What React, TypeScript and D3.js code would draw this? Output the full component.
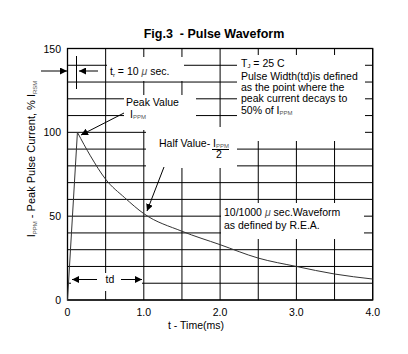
import React, { useEffect, useRef } from "react";
import * as d3 from "d3";

// waveform (time in ms, current in % of Ippm)
const riseTime = [0, 0.13];
const riseValue = [0, 100];
const decayTime = [0.13, 0.3, 0.5, 0.75, 1.0, 1.5, 2.0, 2.5, 3.0, 3.5, 4.0];
const decayValue = [100, 86, 72, 61, 51.5, 41, 33, 25, 20, 15.5, 12.5];

const xTicks = [0, 1, 2, 3, 4];
const xTickLabels = ["0", "1.0", "2.0", "3.0", "4.0"];
const yTicks = [0, 50, 100, 150];
const xGrid = d3.range(0, 4.01, 0.5);
const yGrid = d3.range(0, 150.1, 10);

const W = 408;
const H = 354;
const FONT = "'Liberation Sans', Arial, sans-serif";

export default function App() {
  const ref = useRef<SVGSVGElement>(null);

  useEffect(() => {
    const svg = d3.select(ref.current);
    svg.selectAll("*").remove();

    const x = d3.scaleLinear().domain([0, 4]).range([67.5, 372.7]);
    const y = d3.scaleLinear().domain([0, 150]).range([300, 48.5]);

    const defs = svg.append("defs");
    defs.append("marker").attr("id", "ah").attr("viewBox", "0 0 10 10")
      .attr("refX", 10).attr("refY", 5).attr("markerWidth", 7).attr("markerHeight", 7)
      .attr("markerUnits", "userSpaceOnUse").attr("orient", "auto")
      .append("path").attr("d", "M0,0L10,5L0,10Z").attr("fill", "#000");

    svg.append("text").attr("x", 214).attr("y", 38).attr("text-anchor", "middle")
      .attr("font-weight", "bold").attr("font-size", 12.5).attr("font-family", FONT)
      .attr("xml:space", "preserve").text("Fig.3  - Pulse Waveform");

    const g = svg.append("g");

    // grid
    g.selectAll(".vg").data(xGrid).join("line").attr("class", "vg")
      .attr("x1", d => x(d)).attr("x2", d => x(d)).attr("y1", y(0)).attr("y2", y(150))
      .attr("stroke", "#000").attr("stroke-width", 1);
    g.selectAll(".hg").data(yGrid).join("line").attr("class", "hg")
      .attr("x1", x(0)).attr("x2", x(4)).attr("y1", d => y(d)).attr("y2", d => y(d))
      .attr("stroke", "#000").attr("stroke-width", 1);

    // white boxes behind annotations
    const boxes = [
      [107, 57, 77, 24],
      [124, 95, 72, 35],
      [237, 55, 128, 86],
      [146, 127, 91, 41],
      [221, 203, 143, 36],
      [71, 273, 71, 18],
    ];
    g.selectAll(".box").data(boxes).join("rect").attr("class", "box")
      .attr("x", d => d[0]).attr("y", d => d[1]).attr("width", d => d[2]).attr("height", d => d[3])
      .attr("fill", "#fff");

    g.append("rect").attr("x", x(0)).attr("y", y(150)).attr("width", x(4) - x(0)).attr("height", y(0) - y(150))
      .attr("fill", "none").attr("stroke", "#000").attr("stroke-width", 1.3);

    // ticks
    g.selectAll(".xt").data(xTicks).join("text").attr("class", "xt")
      .attr("x", d => x(d)).attr("y", 316).attr("text-anchor", "middle")
      .attr("font-size", 10.5).attr("font-family", FONT).text((d, i) => xTickLabels[i]);
    g.selectAll(".yt").data(yTicks).join("text").attr("class", "yt")
      .attr("x", 61).attr("y", d => y(d) + 4).attr("text-anchor", "end")
      .attr("font-size", 10.5).attr("font-family", FONT).text(d => String(d));

    svg.append("text").attr("x", 196).attr("y", 329).attr("text-anchor", "middle")
      .attr("font-size", 10.5).attr("font-family", FONT).text("t - Time(ms)");

    const yl = svg.append("text").attr("transform", "translate(35,159) rotate(-90)")
      .attr("text-anchor", "middle").attr("font-size", 11).attr("font-family", FONT);
    yl.append("tspan").text("I");
    yl.append("tspan").attr("font-size", 6).attr("fill", "#555").attr("dy", 2).text("PPM");
    yl.append("tspan").attr("dy", -2).text(" - Peak  Pulse  Current, % I");
    yl.append("tspan").attr("font-size", 6).attr("fill", "#555").attr("dy", 2).text("RSM");

    // waveform
    const rise = riseTime.map((t, i) => [t, riseValue[i]] as [number, number]);
    const decay = decayTime.map((t, i) => [t, decayValue[i]] as [number, number]);
    g.append("path").attr("d", d3.line().x(d => x(d[0])).y(d => y(d[1]))(rise))
      .attr("fill", "none").attr("stroke", "#333").attr("stroke-width", 1);
    g.append("path").attr("d", d3.line().x(d => x(d[0])).y(d => y(d[1])).curve(d3.curveMonotoneX)(decay))
      .attr("fill", "none").attr("stroke", "#333").attr("stroke-width", 1);

    const txt = (xx: number, yy: number, s: string, fs = 10.5) =>
      svg.append("text").attr("x", xx).attr("y", yy).attr("font-size", fs).attr("font-family", FONT).text(s);
    const arrow = (x1: number, y1: number, x2: number, y2: number) =>
      svg.append("line").attr("x1", x1).attr("y1", y1).attr("x2", x2).attr("y2", y2)
        .attr("stroke", "#000").attr("stroke-width", 1).attr("marker-end", "url(#ah)");

    // tr annotation
    arrow(41, 71, 67, 71);
    arrow(98, 71, 79, 71);
    svg.append("line").attr("x1", 76.5).attr("x2", 76.5).attr("y1", 56).attr("y2", 89).attr("stroke", "#000");
    const tr = txt(110, 74.5, "t");
    tr.append("tspan").attr("font-size", 6).attr("dy", 2).text("r");
    tr.append("tspan").attr("dy", -2).text(" = 10 ");
    tr.append("tspan").attr("font-style", "italic").attr("fill", "#555").text("μ");
    tr.append("tspan").text(" sec.");

    // peak value
    txt(126, 106, "Peak Value");
    const pk = txt(130, 118, "I");
    pk.append("tspan").attr("font-size", 6).attr("fill", "#555").attr("dy", 1).text("PPM");
    arrow(124, 113, 81, 135);

    // right info box
    const tj = txt(241, 67, "T");
    tj.append("tspan").attr("font-size", 6).attr("dy", 1).text("J");
    tj.append("tspan").attr("dy", -1).text(" = 25 C");
    txt(241, 79.5, "Pulse Width(td)is defined");
    txt(241, 91, "as the point where the");
    txt(241, 102, "peak current decays to");
    const pc = txt(241, 113.5, "50% of I");
    pc.append("tspan").attr("font-size", 6).attr("fill", "#555").attr("dy", 1).text("PPM");

    // half value
    const hv = txt(159, 146.5, "Half Value- I");
    hv.append("tspan").attr("font-size", 6).attr("fill", "#555").attr("dy", 1).text("PPM");
    svg.append("line").attr("x1", 212).attr("x2", 229).attr("y1", 149.5).attr("y2", 149.5).attr("stroke", "#000");
    txt(216, 158, "2");
    arrow(164, 167, 147, 211);

    // waveform note
    const wf = txt(224, 216, "10/1000 ");
    wf.append("tspan").attr("font-style", "italic").attr("fill", "#555").text("μ");
    wf.append("tspan").text(" sec.Waveform");
    txt(224, 229, "as defined by R.E.A.");

    // td annotation
    arrow(97, 279.5, 72, 279.5);
    arrow(121, 279.5, 142, 279.5);
    svg.append("text").attr("x", 110).attr("y", 283).attr("text-anchor", "middle")
      .attr("font-size", 10.5).attr("font-family", FONT).text("td");
  }, []);

  return (
    <div style={{ position: "absolute", left: 0, top: 0 }}>
      <svg ref={ref} width={W} height={H} style={{ display: "block", background: "#fff" }} />
    </div>
  );
}
